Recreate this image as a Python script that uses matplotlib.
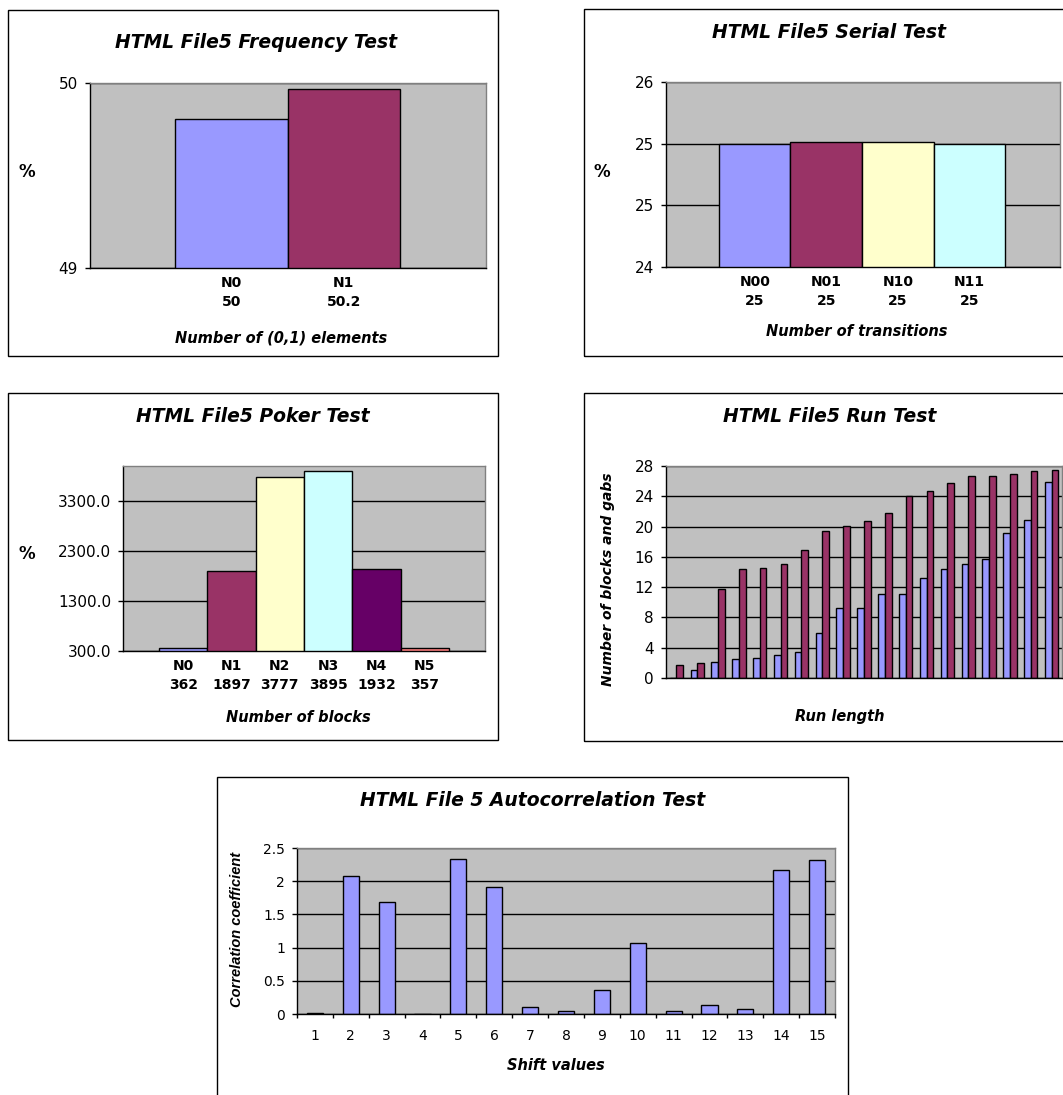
import numpy as np
import matplotlib
matplotlib.use("Agg")
import matplotlib.pyplot as plt
from matplotlib.patches import Rectangle
from matplotlib.ticker import FuncFormatter, FormatStrFormatter, FixedLocator

# ---------------- data ----------------
freq_labels = ["N0", "N1"]
freq_values = [50.0, 50.2]
freq_ylim = (49.007, 50.24)

serial_labels = ["N00", "N01", "N10", "N11"]
serial_values = [25.0, 25.01, 25.01, 25.0]
serial_ticks = [24.0, 24.5, 25.0, 25.5]

poker_labels = ["N0", "N1", "N2", "N3", "N4", "N5"]
poker_values = [362, 1897, 3777, 3895, 1932, 357]
poker_ticks = [300, 1300, 2300, 3300]

run_blocks = [0, 1.0, 2.16, 2.47, 2.64, 3.0, 3.48, 5.95, 9.3, 9.3, 11.1, 11.1,
              13.26, 14.4, 15.07, 15.77, 19.2, 20.9, 25.86]
run_gaps = [1.76, 1.98, 11.76, 14.4, 14.57, 15.06, 16.87, 19.38, 20.04, 20.7,
            21.85, 24.0, 24.66, 25.8, 26.64, 26.64, 27.0, 27.3, 27.48]
run_ticks = list(range(0, 29, 4))

shift_values = list(range(1, 16))
autocorr = [0.02, 2.08, 1.69, 0, 2.34, 1.91, 0.1, 0.05, 0.36, 1.07, 0.05,
            0.14, 0.07, 2.17, 2.32]
autocorr_ticks = [0, 0.5, 1, 1.5, 2, 2.5]

# ---------------- style ----------------
W, H = 1063, 1095
BG = "#C0C0C0"
PALETTE = ["#9999FF", "#993366", "#FFFFCC", "#CCFFFF", "#660066", "#FF8080"]
FONT = ["DejaVu Sans"]
NARROW = ["Liberation Sans Narrow", "Liberation Sans", "DejaVu Sans"]
plt.rcParams["font.family"] = FONT

TITLE_SIZE = 13.5
TICK_SIZE = 11
CAT_SIZE = 10
XLABEL_SIZE = 10.5

fig = plt.figure(figsize=(W / 100, H / 100), dpi=100)
fig.patch.set_facecolor("white")


def fx(x):
    return x / W


def fy(y):
    return 1 - y / H


def add_frame(x0, y0, x1, y1):
    fig.add_artist(Rectangle((fx(x0), fy(y1)), (x1 - x0) / W, (y1 - y0) / H,
                             transform=fig.transFigure, fill=False,
                             ec="black", lw=1.0, clip_on=False))


def make_axes(x0, y0, x1, y1):
    ax = fig.add_axes([fx(x0), fy(y1), (x1 - x0) / W, (y1 - y0) / H])
    ax.set_facecolor(BG)
    ax.set_axisbelow(True)
    ax.yaxis.grid(True, color="black", lw=1.0)
    for s in ("top", "right"):
        ax.spines[s].set_color("#808080")
        ax.spines[s].set_linewidth(1.0)
    for s in ("left", "bottom"):
        ax.spines[s].set_color("black")
        ax.spines[s].set_linewidth(1.0)
    ax.tick_params(axis="y", direction="out", length=3.6, width=1,
                   pad=5, labelsize=TICK_SIZE)
    ax.tick_params(axis="x", length=0, pad=6)
    return ax


def fig_text(x, y, s, size, **kw):
    fig.text(fx(x), fy(y), s, ha="center", va="center", fontsize=size,
             fontweight="bold", **kw)


def excel_round(v, pos):
    return f"{int(np.floor(v + 0.5))}"


def category_ticks(ax, x, names, texts):
    ax.set_xticks(x, [f"{n}\n{t}" for n, t in zip(names, texts)],
                  fontsize=CAT_SIZE, fontweight="bold", linespacing=1.4)


# ---------------- Frequency test ----------------
add_frame(8, 10, 498, 356)
ax1 = make_axes(90, 83, 486, 268)
x = np.arange(len(freq_values))
ax1.bar(x, freq_values, width=1.0, color=PALETTE[:2], edgecolor="black", lw=1)
ax1.set_xlim(-1.256, 2.264)
ax1.set_ylim(*freq_ylim)
ax1.yaxis.set_major_locator(FixedLocator(list(freq_ylim)))
ax1.yaxis.set_major_formatter(FuncFormatter(excel_round))
category_ticks(ax1, x, freq_labels, [f"{v:g}" for v in freq_values])
fig_text(256, 43, "HTML File5 Frequency Test", TITLE_SIZE, style="italic")
fig_text(27, 172, "%", 12)
fig_text(281, 338, "Number of (0,1) elements", XLABEL_SIZE, style="italic")

# ---------------- Serial test ----------------
add_frame(584, 9, 1090, 356)
ax2 = make_axes(666, 82, 1060, 267)
x = np.arange(len(serial_values))
ax2.bar(x, serial_values, width=1.0, color=PALETTE[:4], edgecolor="black", lw=1)
ax2.set_xlim(-1.241, 4.269)
ax2.set_ylim(serial_ticks[0], serial_ticks[-1])
ax2.yaxis.set_major_locator(FixedLocator(serial_ticks))
ax2.yaxis.set_major_formatter(FuncFormatter(excel_round))
category_ticks(ax2, x, serial_labels, [f"{v:.0f}" for v in serial_values])
fig_text(829, 33, "HTML File5 Serial Test", TITLE_SIZE, style="italic")
fig_text(602, 172, "%", 12)
fig_text(857, 332, "Number of transitions", XLABEL_SIZE, style="italic")

# ---------------- Poker test ----------------
add_frame(8, 393, 498, 740)
ax3 = make_axes(123, 466, 485, 651)
x = np.arange(len(poker_values))
ax3.bar(x, poker_values, width=1.0, color=PALETTE, edgecolor="black", lw=1)
ax3.set_xlim(-1.245, 6.245)
ax3.set_ylim(300, 4000)
ax3.yaxis.set_major_locator(FixedLocator(poker_ticks))
ax3.yaxis.set_major_formatter(FormatStrFormatter("%.1f"))
category_ticks(ax3, x, poker_labels, [f"{v:g}" for v in poker_values])
fig_text(253, 417, "HTML File5 Poker Test", TITLE_SIZE, style="italic")
fig_text(27, 554, "%", 12)
fig_text(298, 717, "Number of blocks", XLABEL_SIZE, style="italic")

# ---------------- Run test ----------------
add_frame(584, 393, 1090, 741)
ax4 = make_axes(666, 466, 1062, 678)
x = np.arange(len(run_blocks))
bw = 0.32
ax4.bar(x - bw / 2, run_blocks, width=bw, color=PALETTE[0], edgecolor="black", lw=1)
ax4.bar(x + bw / 2, run_gaps, width=bw, color=PALETTE[1], edgecolor="black", lw=1)
ax4.set_xlim(-0.5, len(run_blocks) - 0.5)
ax4.set_ylim(0, 28)
ax4.yaxis.set_major_locator(FixedLocator(run_ticks))
ax4.set_xticks([])
fig_text(830, 417, "HTML File5 Run Test", TITLE_SIZE, style="italic")
fig_text(608, 579, "Number of blocks and gabs", 10, style="italic", rotation=90)
fig_text(840, 717, "Run length", XLABEL_SIZE, style="italic")

# ---------------- Autocorrelation test ----------------
add_frame(217, 777, 848, 1110)
ax5 = make_axes(297, 848, 835, 1014)
ax5.bar(shift_values, autocorr, width=0.45, color=PALETTE[0], edgecolor="black", lw=1)
ax5.set_xlim(0.5, len(shift_values) + 0.5)
ax5.set_ylim(0, 2.5)
ax5.yaxis.set_major_locator(FixedLocator(autocorr_ticks))
ax5.yaxis.set_major_formatter(FormatStrFormatter("%g"))
ax5.tick_params(axis="y", labelsize=10)
ax5.set_xticks(shift_values, [str(s) for s in shift_values], fontsize=10)
ax5.set_xticks(np.arange(0.5, len(shift_values) + 1, 1.0), minor=True)
ax5.tick_params(axis="x", which="major", length=0, pad=11)
ax5.tick_params(axis="x", which="minor", direction="out", length=3, width=1)
fig_text(533, 800, "HTML File 5 Autocorrelation Test", TITLE_SIZE, style="italic")
fig.text(fx(237), fy(929), "Correlation coefficient", ha="center", va="center",
         fontsize=10.5, fontweight="bold", style="italic", rotation=90,
         family=NARROW)
fig_text(556, 1065, "Shift values", 10.5, style="italic")

fig.savefig("out.png", dpi=100)
